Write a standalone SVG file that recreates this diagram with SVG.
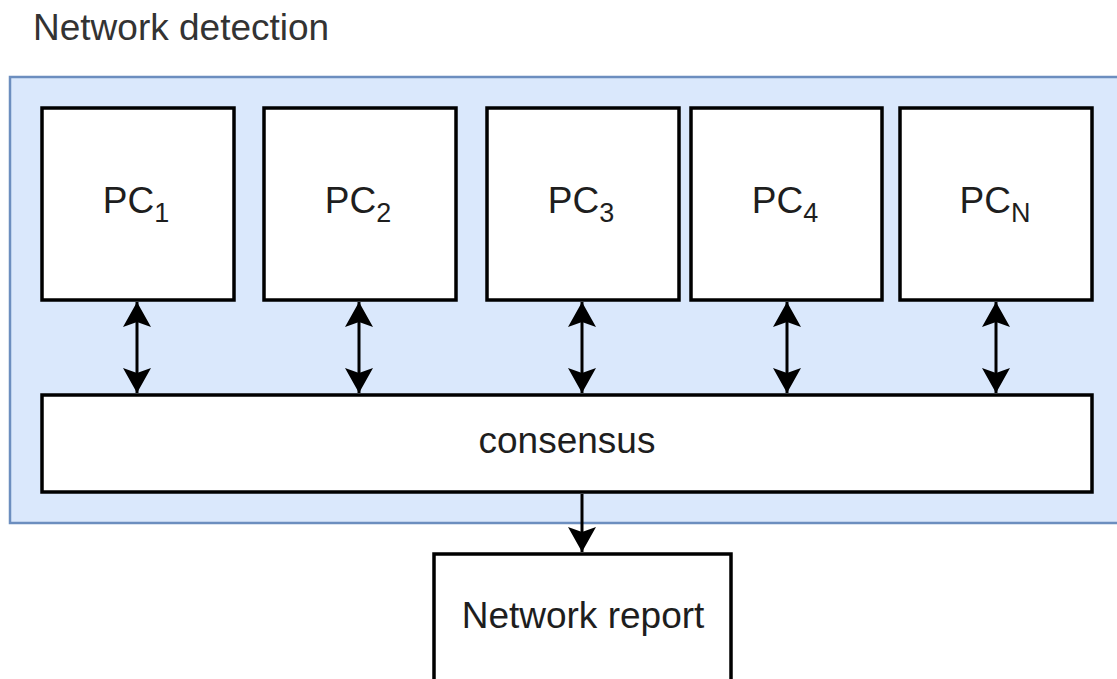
<svg xmlns="http://www.w3.org/2000/svg" width="1117" height="679" viewBox="0 0 1117 679">
<style>
  .box{fill:#ffffff;stroke:#000000;stroke-width:3.5}
  .lbl{font-family:"Liberation Sans",Arial,sans-serif;font-size:37px;fill:#1e1e1e;text-anchor:middle}
  .sub{font-size:27px}
  .conn{stroke:#000000;stroke-width:3;fill:none}
</style>
<defs>
  <marker id="arr" viewBox="0 0 25 28" refX="25" refY="14" markerWidth="25" markerHeight="28" markerUnits="userSpaceOnUse" orient="auto-start-reverse">
    <path d="M0,0 L25,14 L0,28 L5,14 Z" fill="#000000"/>
  </marker>
</defs>
<rect width="1117" height="679" fill="#ffffff"/>
<text x="33" y="40" font-family="'Liberation Sans',Arial,sans-serif" font-size="37" fill="#333333">Network detection</text>
<g id="container">
  <rect x="10" y="77" width="1120" height="446" fill="#dae8fc" stroke="#6c8ebf" stroke-width="2.5"/>
</g>
<g id="pc1">
  <rect class="box" x="42" y="108" width="192" height="192"/>
  <text class="lbl" x="136" y="213">PC<tspan class="sub" dy="9">1</tspan></text>
</g>
<g id="pc2">
  <rect class="box" x="264" y="108" width="192" height="192"/>
  <text class="lbl" x="358" y="213">PC<tspan class="sub" dy="9">2</tspan></text>
</g>
<g id="pc3">
  <rect class="box" x="487" y="108" width="192" height="192"/>
  <text class="lbl" x="581" y="213">PC<tspan class="sub" dy="9">3</tspan></text>
</g>
<g id="pc4">
  <rect class="box" x="691" y="108" width="191" height="192"/>
  <text class="lbl" x="785" y="213">PC<tspan class="sub" dy="9">4</tspan></text>
</g>
<g id="pcn">
  <rect class="box" x="900" y="108" width="192" height="192"/>
  <text class="lbl" x="995" y="213">PC<tspan class="sub" dy="9">N</tspan></text>
</g>
<g id="consensus">
  <rect class="box" x="42" y="395" width="1050" height="97"/>
  <text class="lbl" x="567" y="453">consensus</text>
</g>
<g id="report">
  <rect class="box" x="434" y="554" width="297" height="200" stroke="#2a2a2a"/>
  <text class="lbl" x="583" y="628">Network report</text>
</g>
<g id="connectors">
  <line class="conn" x1="137" y1="302" x2="137" y2="393" marker-start="url(#arr)" marker-end="url(#arr)"/>
  <line class="conn" x1="359" y1="302" x2="359" y2="393" marker-start="url(#arr)" marker-end="url(#arr)"/>
  <line class="conn" x1="582" y1="302" x2="582" y2="393" marker-start="url(#arr)" marker-end="url(#arr)"/>
  <line class="conn" x1="787" y1="302" x2="787" y2="393" marker-start="url(#arr)" marker-end="url(#arr)"/>
  <line class="conn" x1="996" y1="302" x2="996" y2="393" marker-start="url(#arr)" marker-end="url(#arr)"/>
  <line class="conn" x1="582" y1="494" x2="582" y2="552" marker-end="url(#arr)"/>
</g>
</svg>
